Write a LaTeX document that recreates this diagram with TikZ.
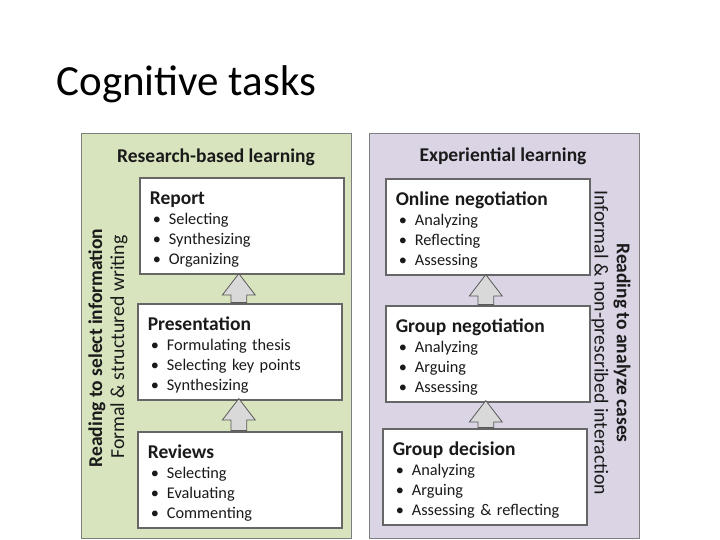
\documentclass[tikz,border=0pt]{standalone}
\usepackage{fontspec}
\setmainfont{Carlito}
\usetikzlibrary{positioning,shapes.arrows}

\definecolor{researchbg}{HTML}{D7E4BD}
\definecolor{experbg}{HTML}{DAD4E5}
\definecolor{frame}{HTML}{7F7F7F}
\definecolor{ink}{HTML}{1A1A1A}

% one bullet line inside a task box
\newcommand{\tsk}[1]{\hspace*{3pt}\textbullet\hspace{8pt}#1}
\newcommand{\thead}[1]{{\bfseries\fontsize{19.5}{20}\selectfont\rule{0pt}{20pt}#1}}

\begin{document}
\begin{tikzpicture}[
    x=1pt, y=-1pt,
    panel/.style={draw=frame, line width=1.2pt, minimum width=270pt, minimum height=405pt, anchor=north west, inner sep=0pt},
    paneltitle/.style={font=\bfseries\fontsize{19.5}{22}\selectfont, text=ink},
    task/.style={draw=frame!80!black, line width=1.6pt, fill=white, align=left, text width=184pt, inner xsep=10pt,
        minimum height=96pt, anchor=north west, text=ink, font=\fontsize{16.3}{20}\selectfont},
    uparr/.style={single arrow, draw=frame!70!black, fill=gray!30, line width=0.8pt, shape border rotate=90,
        inner xsep=7.5pt, inner ysep=0pt, single arrow head extend=8.5pt, single arrow tip angle=75, anchor=tail},
    side/.style={font=\fontsize{19.8}{22}\selectfont, text=ink},
    sidebold/.style={side, font=\bfseries\fontsize{19.5}{22}\selectfont}
]
    \useasboundingbox (0,0) rectangle (720,540);

    \node[anchor=base west, font=\fontsize{43}{48}\selectfont] (title) at (53,96) {Cognitive tasks};

    % panels
    \node[panel, fill=researchbg] (research) at (81,133) {};
    \node[panel, fill=experbg] (exper) at (369,133) {};
    \node[paneltitle] (researchtitle) at (216,157) {Research-based learning};
    \node[paneltitle] (expertitle) at (503,156) {Experiential learning};

    % side labels
    \node[sidebold, rotate=90] (readsel) at (97,348) {Reading to select information};
    \node[side, rotate=90] (formal) at (119,347) {Formal \& structured writing};
    \node[sidebold, rotate=-90] (readana) at (622,343) {Reading to analyze cases};
    \node[side, rotate=-90] (informal) at (600,343) {Informal \& non-prescribed interaction};

    % research-based tasks
    \node[task] (report) at (139,177) {\thead{Report}\\ \tsk{Selecting}\\ \tsk{Synthesizing}\\ \tsk{Organizing}};
    \node[task] (pres) at (137,303) {\thead{Presentation}\\ \tsk{Formulating thesis}\\ \tsk{Selecting key points}\\ \tsk{Synthesizing}};
    \node[task] (reviews) at (137,431) {\thead{Reviews}\\ \tsk{Selecting}\\ \tsk{Evaluating}\\ \tsk{Commenting}};

    % experiential tasks
    \node[task] (online) at (385,178) {\thead{Online negotiation}\\ \tsk{Analyzing}\\ \tsk{Reflecting}\\ \tsk{Assessing}};
    \node[task] (groupneg) at (385,305) {\thead{Group negotiation}\\ \tsk{Analyzing}\\ \tsk{Arguing}\\ \tsk{Assessing}};
    \node[task] (groupdec) at (382,428) {\thead{Group decision}\\ \tsk{Analyzing}\\ \tsk{Arguing}\\ \tsk{Assessing \& reflecting}};

    % block arrows
    \node[uparr, minimum height=29pt] (a1) at ([xshift=-1pt]pres.north) {};
    \node[uparr, minimum height=32pt] (a2) at ([xshift=-1pt]reviews.north) {};
    \node[uparr, minimum height=30pt] (a3) at ([xshift=-2pt]groupneg.north) {};
    \node[uparr, minimum height=27pt] (a4) at ([xshift=1pt]groupdec.north) {};
\end{tikzpicture}
\end{document}
